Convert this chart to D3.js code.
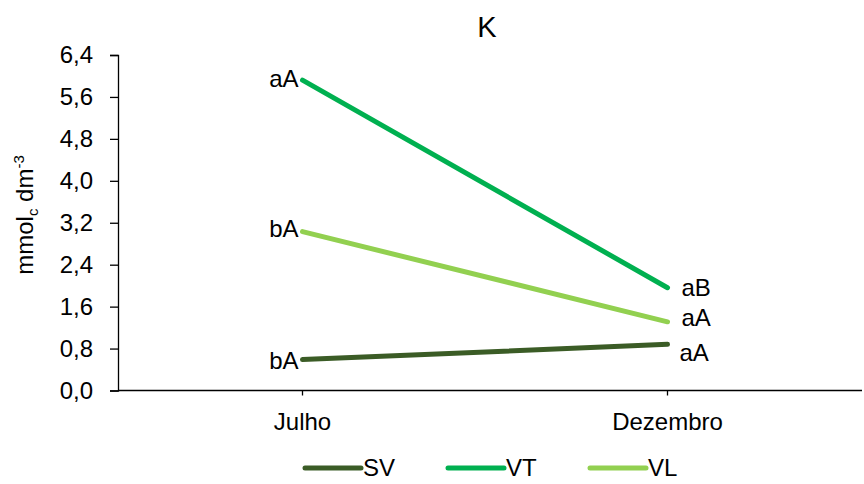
<!DOCTYPE html>
<html>
<head>
<meta charset="utf-8">
<script src="https://cdn.jsdelivr.net/npm/d3@7"></script>
<style>
  body { margin: 0; background: #fff; }
  svg { display: block; }
  text { font-family: "Liberation Sans", Arial, sans-serif; fill: #000; }
</style>
</head>
<body>
<svg id="chart" width="864" height="484"></svg>
<script>
const categories = ["Julho", "Dezembro"];
const seriesNames = ["SV", "VT", "VL"];
const seriesColors = ["#3B5C26", "#00B050", "#92D050"];
const valuesSV = [0.59, 0.88];
const valuesVT = [5.92, 1.96];
const valuesVL = [3.03, 1.31];
const labelsSV = ["bA", "aA"];
const labelsVT = ["aA", "aB"];
const labelsVL = ["bA", "aA"];
const yTicks = [0, 0.8, 1.6, 2.4, 3.2, 4.0, 4.8, 5.6, 6.4];
const title = "K";

const series = [
  { name: seriesNames[0], color: seriesColors[0], values: valuesSV, labels: labelsSV, dy: [1, 8], dx: [-4, 12] },
  { name: seriesNames[1], color: seriesColors[1], values: valuesVT, labels: labelsVT, dy: [-2, 0], dx: [-4, 14] },
  { name: seriesNames[2], color: seriesColors[2], values: valuesVL, labels: labelsVL, dy: [-3, -4], dx: [-4, 14] }
];

const FS = 24;
const svg = d3.select("#chart");
const mLeft = 118, mRight = 850, mTop = 55, mBottom = 390.5;

const x = d3.scaleBand().domain(categories).range([mLeft + 2, mRight]);
const y = d3.scaleLinear().domain([0, 6.4]).range([mBottom, mTop]);
const cx = c => x(c) + x.bandwidth() / 2;

// title
svg.append("text").attr("x", 487).attr("y", 37).attr("text-anchor", "middle")
  .attr("font-size", 29).text(title);

// y axis
const yAxis = d3.axisLeft(y).tickValues(yTicks).tickSize(8).tickPadding(17)
  .tickFormat(d => d3.format(".1f")(d).replace(".", ","));
const gy = svg.append("g").attr("transform", `translate(${mLeft},0)`).call(yAxis);
gy.select(".domain").attr("stroke", "#000").attr("stroke-width", 1.3);
gy.selectAll(".tick line").attr("stroke", "#000").attr("stroke-width", 1.3);
gy.selectAll(".tick text").attr("font-size", FS).attr("font-family", "Liberation Sans, Arial, sans-serif");

// x axis
const xAxis = d3.axisBottom(x).tickSize(5).tickPadding(17).tickSizeOuter(0);
const gx = svg.append("g").attr("transform", `translate(0,${mBottom})`).call(xAxis);
gx.select(".domain").remove();
gx.append("line").attr("x1", mLeft).attr("x2", 862).attr("y1", 0).attr("y2", 0)
  .attr("stroke", "#000").attr("stroke-width", 1.5);
gx.selectAll(".tick line").attr("stroke", "#000").attr("stroke-width", 1.3);
gx.selectAll(".tick text").attr("font-size", FS).attr("font-family", "Liberation Sans, Arial, sans-serif");

// y axis title
const yt = svg.append("text").attr("transform", `translate(33,${215}) rotate(-90)`)
  .attr("text-anchor", "middle").attr("font-size", FS);
yt.append("tspan").text("mmol");
yt.append("tspan").attr("font-size", 15).attr("dy", 5).text("c");
yt.append("tspan").attr("dy", -5).text(" dm");
yt.append("tspan").attr("font-size", 15).attr("dy", -9).text("-3");

// lines
const line = d3.line().x((d, i) => cx(categories[i])).y(d => y(d));
series.forEach(s => {
  svg.append("path").datum(s.values).attr("d", line)
    .attr("fill", "none").attr("stroke", s.color).attr("stroke-width", 5)
    .attr("stroke-linecap", "round");
  s.values.forEach((v, i) => {
    const isLeft = i === 0;
    svg.append("text")
      .attr("x", cx(categories[i]) + s.dx[i])
      .attr("y", y(v) + s.dy[i])
      .attr("dy", "0.35em")
      .attr("text-anchor", isLeft ? "end" : "start")
      .attr("font-size", FS).text(s.labels[i]);
  });
});

// legend
const legendX = [305, 448, 590];
series.forEach((s, i) => {
  const g = svg.append("g").attr("transform", `translate(${legendX[i]},468)`);
  g.append("line").attr("x1", 0).attr("x2", 56).attr("y1", 0).attr("y2", 0)
    .attr("stroke", s.color).attr("stroke-width", 5).attr("stroke-linecap", "round");
  g.append("text").attr("x", 58).attr("y", 0).attr("dy", "0.35em")
    .attr("font-size", FS).text(s.name);
});
</script>
</body>
</html>
